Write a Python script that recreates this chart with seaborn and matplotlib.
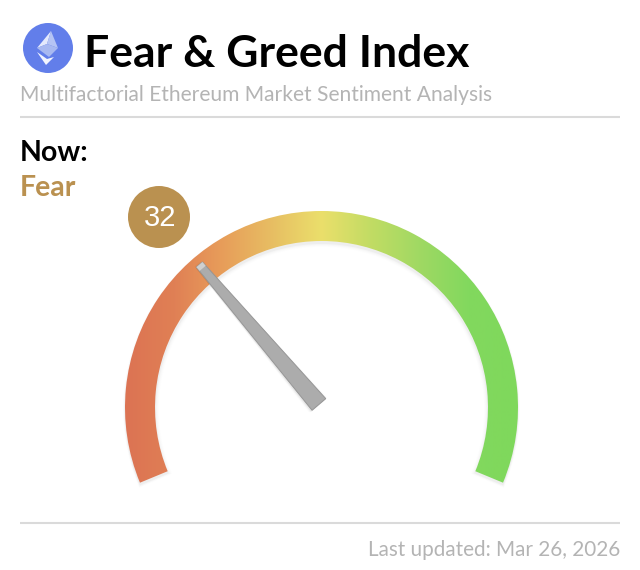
"""
Fear & Greed gauge for the Ethereum sentiment card
"""
import matplotlib
matplotlib.use('Agg')  # no display here
import matplotlib.pyplot as plt
from matplotlib.colors import LinearSegmentedColormap
from matplotlib.patches import Circle, Polygon, Wedge
import numpy as np
import seaborn as sns

# Values shown on the card
index_value = 32
index_min = 0
index_max = 100
sentiment_label = "Fear"
title_text = "Fear & Greed Index"
subtitle_text = "Multifactorial Ethereum Market Sentiment Analysis"
now_text = "Now:"
footer_text = "Last updated: Mar 26, 2026"

# Gradient across the gauge, left to right
gauge_colors = ['#DC7353', '#E08055', '#E89E5A', '#E7BE63', '#EBDF6B', '#C2DC64', '#A0D963', '#82D85E', '#7FD85C']

sns.set_theme(style='white')
plt.rcParams['font.family'] = ['Lato', 'DejaVu Sans']

fig, ax = plt.subplots(figsize=(6.4, 5.7), dpi=100)
fig.subplots_adjust(left=0, right=1, bottom=0, top=1)
ax.set_xlim(0, 640)
ax.set_ylim(570, 0)
ax.axis('off')

# Header
ax.add_patch(Circle((48, 48), 25, color='#627EEA', lw=0))
ax.add_patch(Polygon([(51, 31), (37, 48), (47, 44)], color='#E4EAFC', lw=0))
ax.add_patch(Polygon([(51, 31), (47, 44), (58, 48)], color='#B5C4F4', lw=0))
ax.add_patch(Polygon([(37, 48), (47, 44), (58, 48), (49, 57)], color='#A8B9F1', lw=0))
ax.add_patch(Polygon([(37, 52), (46, 65), (54, 57), (47, 59)], color='#F2F5FE', lw=0))
ax.text(84, 54, title_text, fontsize=32, fontweight='bold', color='black', va='center', ha='left')
ax.text(20, 95, subtitle_text, fontsize=15.13, color='#B4B4B4', va='center', ha='left')
ax.plot([20, 620], [117, 117], color='#DADADA', lw=1.5, solid_capstyle='butt')

ax.text(20, 153, now_text, fontsize=20.5, fontweight='bold', color='black', va='center', ha='left')
ax.text(20, 188, sentiment_label, fontsize=20.5, fontweight='bold', color='#BA9150', va='center', ha='left')

# Gauge geometry
cx, cy = 321.5, 407.5
r_outer, r_inner = 196.5, 166.5
start_deg, end_deg = 202.5, -22.5
# y axis is flipped, so angles go negative for Wedge
wedge_from, wedge_to = -start_deg, -end_deg

# Soft shadow under the arc
for grow, alpha in zip([4, 3, 2, 1], [0.006, 0.01, 0.016, 0.03]):
    ax.add_patch(Wedge((cx, cy + 2), r_outer + grow * 0.5, wedge_from - grow * 0.2, wedge_to + grow * 0.2,
                       width=r_outer - r_inner + 1.5 * grow, color='black', alpha=alpha, lw=0))

cmap = LinearSegmentedColormap.from_list('gauge', gauge_colors)
gradient = np.linspace(0, 1, 256).reshape(1, -1)
arc = Wedge((cx, cy), r_outer, wedge_from, wedge_to, width=r_outer - r_inner, fc='none', ec='none')
ax.add_patch(arc)
im = ax.imshow(gradient, cmap=cmap, aspect='auto', extent=(cx - r_outer, cx + r_outer, cy + r_outer, cy - r_outer),
               interpolation='bilinear', zorder=2)
im.set_clip_path(arc)
ax.set_xlim(0, 640)
ax.set_ylim(570, 0)

# Needle position comes from the value
frac = (index_value - index_min) / (index_max - index_min)
needle_deg = start_deg + (end_deg - start_deg) * frac
theta = np.radians(needle_deg)
direction = np.array([np.cos(theta), -np.sin(theta)])
normal = np.array([-direction[1], direction[0]])
center = np.array([cx, cy])
tip = center + direction * 188
base = center + direction * 4
needle = [tip + normal * 4, tip - normal * 4, base - normal * 9, base + normal * 9]
for grow, alpha in zip([3, 2, 1], [0.015, 0.025, 0.05]):
    shadow = [p + np.array([0, 1.5]) + (p - center) / np.linalg.norm(p - center) * grow for p in needle]
    ax.add_patch(Polygon(shadow, color='black', alpha=alpha, lw=0, zorder=3))
ax.add_patch(Polygon(needle, fc='#ACACAC', ec='#969696', lw=0.7, zorder=4))
# lighter end on the needle tip
tip_inner = tip - direction * 5
ax.add_patch(Polygon([tip + normal * 4, tip - normal * 4, tip_inner - normal * 4, tip_inner + normal * 4],
                     fc='#D9D9D9', ec='none', lw=0, alpha=0.8, zorder=5))

# Value badge
ax.add_patch(Circle((159, 217), 31, color='#BA9150', lw=0, zorder=5))
ax.text(160, 218, str(index_value), fontsize=21, color='white', va='center', ha='center', zorder=6,
        family=['Liberation Sans', 'DejaVu Sans'])

# Footer
ax.plot([20, 620], [523, 523], color='#DADADA', lw=1.5, solid_capstyle='butt')
ax.text(620, 550, footer_text, fontsize=14.85, color='#B4B4B4', va='center', ha='right')

plt.savefig('out.png', dpi=100, facecolor='white')
plt.close(fig)
